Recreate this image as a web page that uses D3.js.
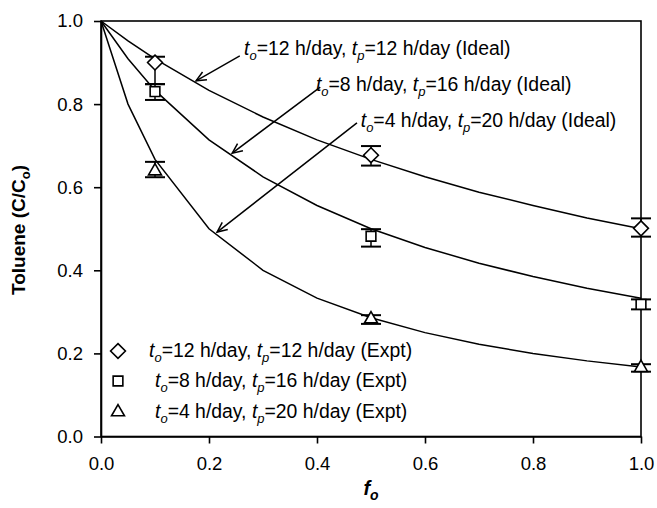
<!DOCTYPE html>
<html>
<head>
<meta charset="utf-8">
<style>
  body { margin: 0; background: #fff; }
  text { font-family: Arial, "Liberation Sans", sans-serif; fill: #000; }
</style>
</head>
<body>
<svg width="657" height="508"></svg>
<script src="https://cdn.jsdelivr.net/npm/d3@7/dist/d3.min.js"></script>
<script>
// ---- data ----
var fo = [0, 0.05, 0.1, 0.2, 0.3, 0.4, 0.5, 0.6, 0.7, 0.8, 0.9, 1.0];
var ideal12 = [1, 0.952, 0.909, 0.833, 0.769, 0.714, 0.667, 0.625, 0.588, 0.556, 0.526, 0.500];
var ideal8  = [1, 0.909, 0.833, 0.714, 0.625, 0.556, 0.500, 0.455, 0.417, 0.385, 0.357, 0.333];
var ideal4  = [1, 0.800, 0.667, 0.500, 0.400, 0.333, 0.286, 0.250, 0.222, 0.200, 0.182, 0.167];

var foExpt = [0.1, 0.5, 1.0];
var expt12 = [0.900, 0.677, 0.501];
var expt12Lo = [0.848, 0.652, 0.481];
var expt12Hi = [0.914, 0.699, 0.525];
var expt8 = [0.830, 0.482, 0.318];
var expt8Lo = [0.810, 0.457, 0.306];
var expt8Hi = [0.848, 0.499, 0.330];
var expt4 = [0.641, 0.285, 0.168];
var expt4Lo = [0.624, 0.271, 0.156];
var expt4Hi = [0.661, 0.292, 0.174];

var tickVals = [0, 0.2, 0.4, 0.6, 0.8, 1.0];

var svg = d3.select("svg");
var x = d3.scaleLinear().domain([0, 1]).range([101, 641]);
var y = d3.scaleLinear().domain([0, 1]).range([436.5, 21]);

// frame
svg.append("rect").attr("x", x(0)).attr("y", y(1))
  .attr("width", x(1) - x(0)).attr("height", y(0) - y(1))
  .attr("fill", "none").attr("stroke", "#000").attr("stroke-width", 1.6);

var xAxis = svg.append("g").attr("transform", "translate(0," + y(0) + ")")
  .call(d3.axisBottom(x).tickValues(tickVals).tickFormat(d3.format(".1f"))
    .tickSize(7).tickSizeOuter(0).tickPadding(13));
var yAxis = svg.append("g").attr("transform", "translate(" + x(0) + ",0)")
  .call(d3.axisLeft(y).tickValues(tickVals).tickFormat(d3.format(".1f"))
    .tickSize(7).tickSizeOuter(0).tickPadding(11));
[xAxis, yAxis].forEach(function(a){
  a.select(".domain").attr("stroke-width", 1.6);
  a.selectAll(".tick line").attr("stroke-width", 1.6);
  a.selectAll(".tick text").attr("font-size", 18.5)
    .attr("font-family", "Arial, 'Liberation Sans', sans-serif").attr("fill", "#000");
});

// ideal curves
var line = d3.line().x(function(d){ return x(d[0]); }).y(function(d){ return y(d[1]); });
[ideal12, ideal8, ideal4].forEach(function(s){
  svg.append("path").datum(fo.map(function(f, i){ return [f, s[i]]; }))
    .attr("d", line).attr("fill", "none").attr("stroke", "#000").attr("stroke-width", 1.5);
});

// expt error bars + markers
var sym = [d3.symbolDiamond2, d3.symbolSquare2, d3.symbolTriangle2];
var symSize = [140, 120, 120];
var series = [[expt12, expt12Lo, expt12Hi], [expt8, expt8Lo, expt8Hi], [expt4, expt4Lo, expt4Hi]];
var capW = 10;
series.forEach(function(s, k){
  var g = svg.append("g");
  foExpt.forEach(function(f, i){
    var cx = x(f);
    g.append("line").attr("x1", cx).attr("x2", cx).attr("y1", y(s[1][i])).attr("y2", y(s[2][i]))
      .attr("stroke", "#000").attr("stroke-width", 1.5);
    [s[1][i], s[2][i]].forEach(function(v){
      g.append("line").attr("x1", cx - capW).attr("x2", cx + capW).attr("y1", y(v)).attr("y2", y(v))
        .attr("stroke", "#000").attr("stroke-width", 2);
    });
  });
  foExpt.forEach(function(f, i){
    g.append("path").attr("d", d3.symbol().type(sym[k]).size(symSize[k])())
      .attr("transform", "translate(" + x(f) + "," + (y(s[0][i]) + (k == 2 ? 1 : 0)) + ")")
      .attr("fill", "#fff").attr("stroke", "#000").attr("stroke-width", 1.6);
  });
});

// text with subscripts
function richLabel(sel, a, b, tail) {
  var t = sel.append("text").attr("font-size", 19.4);
  t.append("tspan").attr("font-style", "italic").text("t");
  t.append("tspan").attr("font-style", "italic").attr("font-size", 13).attr("dy", 5).text("o");
  t.append("tspan").attr("dy", -5).text("=" + a + " h/day, ");
  t.append("tspan").attr("font-style", "italic").text("t");
  t.append("tspan").attr("font-style", "italic").attr("font-size", 13).attr("dy", 5).text("p");
  t.append("tspan").attr("dy", -5).text("=" + b + " h/day " + tail);
  return t;
}

// annotations for ideal lines: text start, arrow from -> to (data units)
var notes = [
  {a: 12, b: 12, tx: 0.265, ty: 0.918, x1: 0.257, y1: 0.916, x2: 0.176, y2: 0.856},
  {a: 8,  b: 16, tx: 0.398, ty: 0.832, x1: 0.406, y1: 0.841, x2: 0.243, y2: 0.682},
  {a: 4,  b: 20, tx: 0.481, ty: 0.744, x1: 0.474, y1: 0.755, x2: 0.215, y2: 0.492}
];
notes.forEach(function(n){
  richLabel(svg, n.a, n.b, "(Ideal)").attr("x", x(n.tx)).attr("y", y(n.ty));
  var X1 = x(n.x1), Y1 = y(n.y1), X2 = x(n.x2), Y2 = y(n.y2);
  svg.append("line").attr("x1", X1).attr("y1", Y1).attr("x2", X2).attr("y2", Y2)
    .attr("stroke", "#000").attr("stroke-width", 1.5);
  var ang = Math.atan2(Y1 - Y2, X1 - X2), L = 11, w = 0.42;
  svg.append("path")
    .attr("d", "M" + (X2 + L * Math.cos(ang + w)) + "," + (Y2 + L * Math.sin(ang + w)) +
      "L" + X2 + "," + Y2 + "L" + (X2 + L * Math.cos(ang - w)) + "," + (Y2 + L * Math.sin(ang - w)))
    .attr("fill", "none").attr("stroke", "#000").attr("stroke-width", 1.5);
});

// legend (Expt)
var legend = [[12, 12, 149], [8, 16, 155], [4, 20, 155]];
var legY = [351, 381, 412];
legend.forEach(function(d, k){
  svg.append("path").attr("d", d3.symbol().type(sym[k]).size(symSize[k])())
    .attr("transform", "translate(118," + legY[k] + ")")
    .attr("fill", "#fff").attr("stroke", "#000").attr("stroke-width", 1.6);
  richLabel(svg, d[0], d[1], "(Expt)").attr("x", d[2]).attr("y", legY[k] + 6);
});

// axis titles
var xt = svg.append("text").attr("x", x(0.5)).attr("y", 495).attr("text-anchor", "middle")
  .attr("font-size", 20).attr("font-weight", "bold").attr("font-style", "italic");
xt.append("tspan").text("f");
xt.append("tspan").attr("font-size", 14).attr("dy", 5).text("o");

var yt = svg.append("text").attr("transform", "translate(25," + 230 + ") rotate(-90)")
  .attr("text-anchor", "middle").attr("font-size", 19).attr("font-weight", "bold");
yt.append("tspan").text("Toluene (C/C");
yt.append("tspan").attr("font-size", 13).attr("dy", 5).text("o");
yt.append("tspan").attr("dy", -5).text(")");
</script>
</body>
</html>
